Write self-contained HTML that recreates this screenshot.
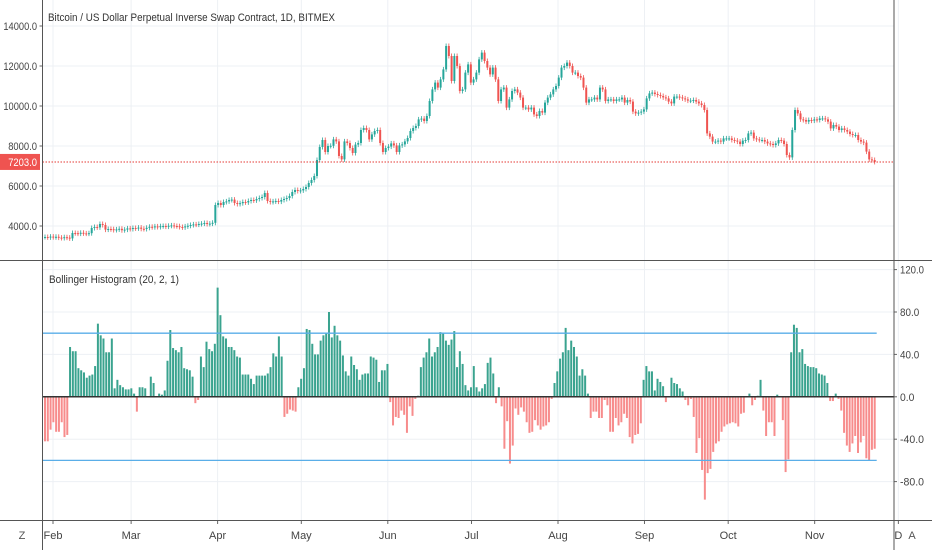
<!DOCTYPE html>
<html><head><meta charset="utf-8">
<style>
html,body{margin:0;padding:0;background:#fff;}
body{width:932px;height:550px;overflow:hidden;font-family:"Liberation Sans",sans-serif;}
svg text{font-family:"Liberation Sans",sans-serif;}
</style></head>
<body>
<svg id="chart" width="932" height="550" viewBox="0 0 932 550">
<g id="grid"></g>
<g id="candles"></g>
<g id="hist"></g>
<g id="axes"></g>
<text x="48" y="21" font-size="11" fill="#333" textLength="287" lengthAdjust="spacingAndGlyphs">Bitcoin / US Dollar Perpetual Inverse Swap Contract, 1D, BITMEX</text>
<text x="49" y="283" font-size="11" fill="#333" textLength="130" lengthAdjust="spacingAndGlyphs">Bollinger Histogram (20, 2, 1)</text>
<text x="22" y="539" font-size="11" fill="#555" text-anchor="middle">Z</text>
<text x="912" y="539" font-size="11" fill="#555" text-anchor="middle">A</text>
</svg>
<script>
const closes = [
3450,3430,3470,3440,3460,3420,3400,3440,3420,3380,
3650,3640,3620,3660,3630,3620,3640,
3900,3950,3930,4100,4050,
3820,3850,3840,3800,3830,3860,3790,3820,3880,3850,
3900,3880,3920,3860,3850,3910,3960,3940,3980,3950,3990,4000,3970,4010,4030,4000,3990,3950,3930,3980,4010,
4050,4080,4070,4100,4120,4150,4100,4120,4160,
5050,5150,5050,5200,5230,5300,5320,5150,
5100,5140,5200,5180,5250,5300,5280,5350,5400,5450,
5650,5250,5200,5230,5250,5220,5300,5350,5400,
5500,5700,5800,5750,5780,5850,5950,6150,6300,6500,7300,
7950,8300,7700,8000,
8010,8330,8230,7500,7330,8230,8150,7900,7650,8070,8150,8800,8900,8800,8330,8580,8750,8800,8150,7700,7900,7970,8130,8030,7700,8030,8080,8230,8400,8750,8900,9000,9330,9370,9250,9500,10250,10830,11170,10920,11330,11830,13000,12500,11250,12500,12000,10750,10830,11670,12080,11170,11330,11670,12330,12670,12250,11920,11580,11920,11330,10250,10830,10920,9920,10330,10750,10830,10670,10420,9920,9920,9830,9920,9580,9500,9750,9670,10170,10420,10580,10830,11000,11420,11920,12000,12170,12000,11670,11670,11500,11420,10920,10170,10330,10330,10420,10330,10920,10830,10250,10330,10330,10250,10330,10330,10420,10170,
10300,10220,9720,9630,9670,9720,9830,10380,10630,10670,10600,10550,10500,10430,10380,10220,10130,10470,10470,10430,10380,10330,10270,10270,10300,10220,10130,10050,9800,8630,8470,8220,8220,8270,8220,8380,8380,8380,8300,8270,8220,8100,8270,8300,8630,8670,8380,8330,8300,8300,8220,8130,8100,8050,8130,8300,8270,8100,7550,7430,8800,9800,9630,9330,9300,9220,9300,9270,9330,9300,9380,9380,9330,9220,8880,9050,8970,8800,8880,8800,8720,8600,8550,8550,8300,8220,8170,7720,7330,7300,7203
];
const histValues = [
-42,-42,-31,-24,-33,-33,-24,-38,-36,
47,43,43,27,25,23,18,20,21,29,
69,58,55,42,42,55,
8,16,11,9,7,7,8,3,
-14,
9,9,8,
0,19,13,0,3,2,6,
34,63,46,44,42,47,27,26,25,19,
-6,-3,
38,28,52,45,43,50,103,77,57,55,47,47,44,38,37,21,21,21,17,12,20,20,20,20,22,28,41,38,57,38,
-19,-16,-12,-13,-14,
9,17,27,64,63,50,40,40,53,58,60,80,56,67,
58,53,39,24,20,38,30,26,16,21,22,22,38,37,35,14,25,25,31,
-5,-27,-19,-20,-13,-17,-34,-9,-18,-2,
1,28,37,42,55,38,42,47,61,60,53,49,54,62,28,43,31,11,6,9,29,9,5,8,12,32,37,22,
-6,9,
-9,-49,-23,-63,-46,-11,-17,-10,-14,-24,-34,-33,-22,-27,-31,-28,-27,-24,-2,
13,24,36,42,65,44,53,47,38,20,26,20,3,
-20,-14,-14,-20,-20,-3,-8,-33,-33,-20,-27,-24,-16,-20,-38,
-44,-36,-35,-25,
16,29,24,24,6,17,14,10,
-5,0,18,13,12,8,5,
-3,-8,-2,
-19,-53,-39,-69,-97,-72,-68,-52,-44,-42,-33,-28,-26,-25,-24,-25,-28,-16,-15,
0,3,-8,-3,1,16,
-13,-37,-24,-24,-37,2,0,-22,-71,-59,
42,68,65,42,45,31,29,28,28,27,22,21,20,13,
-4,-4,3,
-2,-13,-34,-46,-52,-44,-37,-53,-43,-37,-58,-60,-50,-49
];
const priceTicks = [4000,6000,8000,10000,12000,14000];
const histTicks = [120,80,40,0,-40,-80];
const bandLevels = [60,-60];
const lastPrice = 7203;
const monthLabels = ["Feb","Mar","Apr","May","Jun","Jul","Aug","Sep","Oct","Nov","D"];
const monthDays = [4,32,63,93,124,154,185,216,246,277,307];

const NS="http://www.w3.org/2000/svg";
const X0=45, X1=874.7, L=42.5, R=894;
function yPrice(p){return 226-(p-4000)*0.02;}
function yHist(v){return 396.8-v*1.06;}
function xDay(d){return 53+(d-4)*2.79;}
function el(tag,attrs,parent){const e=document.createElementNS(NS,tag);for(const k in attrs)e.setAttribute(k,attrs[k]);parent.appendChild(e);return e;}
const grid=document.getElementById('grid'),cg=document.getElementById('candles'),hg=document.getElementById('hist'),ax=document.getElementById('axes');

monthLabels.forEach((m,i)=>{
  const x=xDay(monthDays[i]);
  const g1=el('line',{x1:x,x2:x,y1:0,y2:520,stroke:'#edf0f4','stroke-width':1},grid);
  
  
  const t=el('text',{x:x,y:539,'font-size':11,fill:'#444','text-anchor':'middle'},ax);
  t.textContent=m;
  
  
  const tk=el('line',{x1:x,x2:x,y1:521,y2:524,stroke:'#666'},ax);
  
  
});
priceTicks.forEach(p=>{
  const y=yPrice(p);
  const g1=el('line',{x1:L,x2:R,y1:y,y2:y,stroke:'#edf0f4'},grid);
  
  
  const s=p.toFixed(1);
  const t=el('text',{x:37,y:y+4,'font-size':11,fill:'#444','text-anchor':'end',textLength:s.length*4.8,lengthAdjust:'spacingAndGlyphs'},ax);
  t.textContent=s;
  
  
  const tk=el('line',{x1:L-3,x2:L,y1:y,y2:y,stroke:'#666'},ax);
  
  
});
histTicks.forEach(v=>{
  const y=yHist(v);
  const g1=el('line',{x1:L,x2:R,y1:y,y2:y,stroke:'#edf0f4'},grid);
  
  
  const s=v.toFixed(1);
  const t=el('text',{x:900,y:y+4,'font-size':11,fill:'#444',textLength:s.length*4.8,lengthAdjust:'spacingAndGlyphs'},ax);
  t.textContent=s;
  
  
  const tk=el('line',{x1:R,x2:R+3,y1:y,y2:y,stroke:'#666'},ax);
  
  
});
const cs=(X1-X0)/(closes.length-1);
closes.forEach((c,i)=>{
  const o=i>0?closes[i-1]:c;
  const x=X0+i*cs;
  const up=c>=o;
  const yt=yPrice(Math.max(o,c)), yb=yPrice(Math.min(o,c));
  const col=up?'#26a69a':'#ef5350';
  const w=el('line',{x1:x,x2:x,y1:yt-2.5,y2:yb+2.5,stroke:col,'stroke-width':0.8},cg);
  
  
  const r=el('rect',{x:x-1,y:yt,width:2,height:Math.max(1,yb-yt),fill:col},cg);
  
  
});
const ly=yPrice(lastPrice);
const lp=el('line',{x1:L,x2:R,y1:ly,y2:ly,stroke:'#e53935','stroke-width':1,'stroke-dasharray':'1.5,1.5'},ax);


const lb=el('rect',{x:0,y:ly-8,width:40,height:16,fill:'#ef5350'},ax);


const ls=lastPrice.toFixed(1);
const lt=el('text',{x:37,y:ly+4,'font-size':11,fill:'#fff','text-anchor':'end',textLength:ls.length*4.8,lengthAdjust:'spacingAndGlyphs'},ax);
lt.textContent=ls;


const hs=(X1-X0)/(histValues.length-1);
const y0=yHist(0);
histValues.forEach((v,i)=>{
  const x=X0+i*hs;
  const y=yHist(v);
  const r=el('rect',{x:x-1,y:Math.min(y,y0),width:2,height:Math.max(0.5,Math.abs(y-y0)),fill:v>=0?'#3aa38f':'#f78c8c'},hg);
  
  
});
bandLevels.forEach(b=>{
  const y=yHist(b);
  const l=el('line',{x1:L,x2:X1+2,y1:y,y2:y,stroke:'#5aaee8','stroke-width':1.3},hg);
  
  
});
const zl=el('line',{x1:L,x2:R,y1:y0,y2:y0,stroke:'#333','stroke-width':1.5},hg);


[[L,0,L,550],[R,0,R,550],[0,260.5,932,260.5],[0,520.5,932,520.5]].forEach(a=>{
  const l=el('line',{x1:a[0],y1:a[1],x2:a[2],y2:a[3],stroke:'#555','stroke-width':1},ax);
  
  
});
</script>
</body></html>
